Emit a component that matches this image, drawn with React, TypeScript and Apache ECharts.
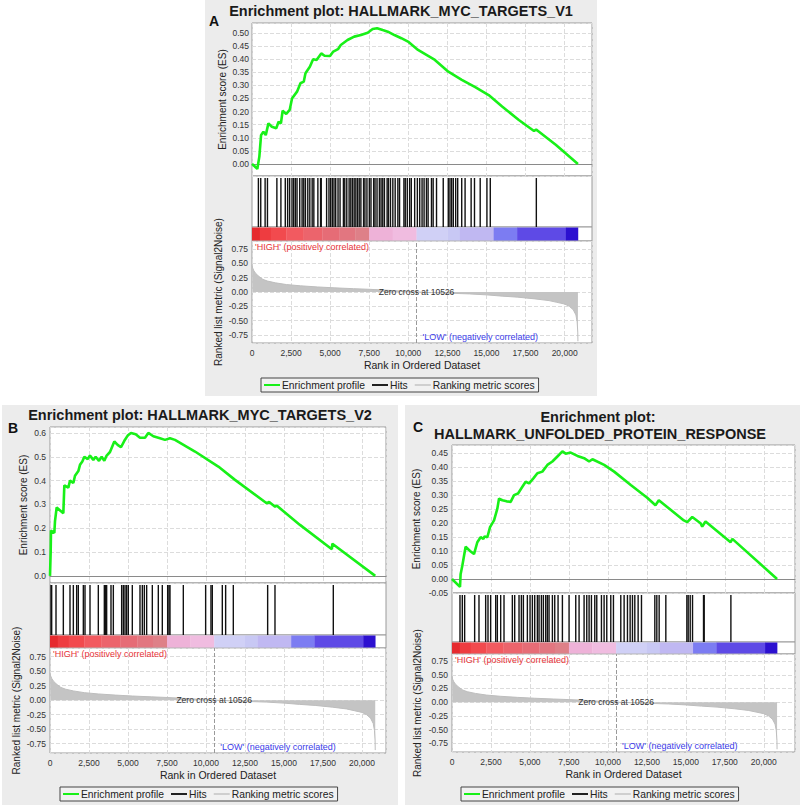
import React, { useEffect, useRef } from "react";
import * as echarts from "echarts";

// ---------------- data ----------------
const ZERO_CROSS = 10526;

const esMycV1: [number, number][] = [
  [0, 0], [86, -0.004], [340, -0.019], [470, 0.028], [580, 0.11], [730, 0.123], [880, 0.11],
  [1050, 0.155], [1270, 0.142], [1550, 0.136], [1700, 0.161], [1850, 0.155], [1960, 0.203],
  [2190, 0.191], [2410, 0.206], [2560, 0.25], [2880, 0.276], [3100, 0.308], [3310, 0.314],
  [3420, 0.346], [3700, 0.371], [3910, 0.4], [4130, 0.397], [4430, 0.422], [4640, 0.413],
  [4990, 0.412], [5200, 0.429], [5500, 0.438], [5680, 0.454], [6110, 0.473], [6540, 0.486],
  [6970, 0.492], [7400, 0.501], [7720, 0.515], [8000, 0.518], [8360, 0.511], [8690, 0.505],
  [9110, 0.492], [9550, 0.48], [9980, 0.467], [10620, 0.435], [11700, 0.397], [12560, 0.352],
  [13420, 0.321], [14280, 0.293], [15140, 0.263], [16000, 0.219], [17070, 0.168],
  [18040, 0.126], [18180, 0.131], [18360, 0.123], [19430, 0.073], [20850, 0],
];
const hitsMycV1: number[] = [
  409, 559, 839, 989, 1591, 1849, 2129, 2279, 2408, 2559, 2666, 2774, 2881, 3053, 3204, 3311,
  3418, 3569, 3698, 3849, 3956, 4214, 4386, 4429, 4773, 4924, 5031, 5139, 5246, 5354, 5504,
  5633, 5848, 5934, 6063, 6213, 6321, 6428, 6536, 6643, 6751, 6859, 6966, 7138, 7224, 7353,
  7504, 7611, 7783, 7869, 7998, 8149, 8256, 8364, 8471, 8643, 8729, 8858, 9009, 9159, 9331,
  9439, 9718, 9804, 9933, 10084, 10191, 10406, 10578, 10729, 10879, 11008, 11159, 11266,
  11481, 11589, 11804, 12234, 12556, 12664, 12771, 12879, 13029, 13158, 13416, 13631, 14018,
  14233, 14598, 15028, 15243, 18189,
];

const esMycV2: [number, number][] = [
  [0, 0], [43, 0.1], [64, 0.19], [278, 0.18], [320, 0.23], [427, 0.287], [855, 0.263],
  [919, 0.38], [1175, 0.37], [1282, 0.4], [1496, 0.39], [1603, 0.42], [1817, 0.44],
  [1923, 0.466], [2073, 0.48], [2201, 0.5], [2415, 0.49], [2564, 0.505], [2778, 0.487],
  [2927, 0.5], [3141, 0.483], [3311, 0.5], [3482, 0.483], [3632, 0.505], [3846, 0.52],
  [4124, 0.564], [4338, 0.55], [4551, 0.54], [4765, 0.567], [4979, 0.589], [5192, 0.6],
  [5492, 0.595], [5769, 0.58], [6089, 0.58], [6303, 0.6], [6624, 0.586], [7051, 0.578],
  [7372, 0.571], [7692, 0.578], [8013, 0.571], [9295, 0.522], [10790, 0.459], [11860, 0.403],
  [13890, 0.305], [14050, 0.31], [14430, 0.29], [14530, 0.295], [16025, 0.214],
  [18070, 0.112], [18100, 0.135], [20850, 0],
];
const hitsMycV2: number[] = [
  64, 107, 385, 855, 1282, 1496, 1709, 1816, 2137, 2244, 2564, 3098, 3483, 3568, 3632, 3910,
  4060, 4594, 4701, 4808, 4914, 5021, 5277, 5769, 5919, 6047, 6196, 6560, 6944, 7200, 7543,
  7628, 7692, 8547, 9978, 10320, 10406, 11046, 11260, 11752, 13953, 14423, 18162,
];

const esUpr: [number, number][] = [
  [0, 0], [513, -0.028], [552, 0.017], [661, 0.047], [873, 0.115], [1156, 0.1], [1412, 0.089],
  [1624, 0.131], [1836, 0.149], [2010, 0.143], [2093, 0.152], [2266, 0.149], [2440, 0.185],
  [2696, 0.209], [2908, 0.251], [3017, 0.287], [3229, 0.281], [3505, 0.277], [3762, 0.275],
  [3980, 0.299], [4237, 0.305], [4513, 0.329], [4725, 0.347], [4943, 0.341], [5219, 0.359],
  [5476, 0.377], [5797, 0.383], [6118, 0.407], [6439, 0.419], [6760, 0.437], [7081, 0.455],
  [7293, 0.447], [7614, 0.451], [8044, 0.439], [8474, 0.431], [8796, 0.419], [9007, 0.427],
  [9758, 0.407], [10400, 0.383], [11466, 0.335], [12520, 0.29], [13050, 0.263],
  [13265, 0.281], [13800, 0.257], [14870, 0.209], [15090, 0.203], [15410, 0.221],
  [15940, 0.199], [16050, 0.187], [16260, 0.205], [17870, 0.131], [17980, 0.143], [20850, 0],
];
const hitsUpr: number[] = [
  512, 661, 811, 1453, 1731, 2159, 2309, 2480, 2801, 2908, 3122, 3336, 3871, 4021, 4299, 4449,
  4578, 4834, 5006, 5155, 5305, 5476, 5583, 5733, 5861, 6011, 6118, 6225, 6439, 6589, 6803,
  7081, 7509, 7937, 8151, 8472, 8643, 8793, 8943, 9157, 9285, 9585, 9756, 9927, 10184, 10355,
  10826, 11040, 11254, 11425, 11575, 11725, 11939, 12153, 13009, 13137, 13287, 13715, 15063,
  15149, 15278, 15427, 16133, 16176, 17888,
];

// ranked list metric (same ranked list for all three plots)
const metricRanks: number[] = [
  0, 40, 120, 250, 450, 700, 1000, 1500, 2200, 3100, 4200, 5300, 6500, 7500, 8500, 9500,
  10526, 11500, 12500, 13900, 15000, 16000, 17000, 18100, 19000, 19500, 20000, 20300, 20550,
  20720, 20800, 20840, 20850,
];
const metricValues: number[] = [
  0.47, 0.42, 0.37, 0.32, 0.27, 0.22, 0.19, 0.16, 0.13, 0.108, 0.088, 0.072, 0.058, 0.047,
  0.033, 0.017, 0, -0.01, -0.02, -0.033, -0.05, -0.072, -0.09, -0.12, -0.15, -0.18, -0.21,
  -0.25, -0.31, -0.4, -0.52, -0.7, -0.86,
];

// colour bar of the ranked list
const barStarts: number[] = [0, 500, 1200, 2200, 3300, 4500, 5600, 6600, 7500, 9000, 10526, 12500, 13300, 15460, 16960, 20080];
const barEnds: number[] = [500, 1200, 2200, 3300, 4500, 5600, 6600, 7500, 9000, 10526, 12500, 13300, 15460, 16960, 20080, 20850];
const barColors: string[] = [
  "#e62a2e", "#ee3c40", "#f24a4e", "#f25a60", "#ec646c", "#e66c76", "#e27680", "#de8088",
  "#eeb2d8", "#f0bce0", "#d0d0f6", "#c8c8f4", "#c0b8f2", "#7c7cf2", "#5e4ae6", "#2c10d0",
];

const legendNames = ["Enrichment profile", "Hits", "Ranking metric scores"];

// ---------------- layout ----------------
const FONT = "Liberation Sans, Arial, sans-serif";
const GREEN = "#18f018";

type Panel = {
  letter: string; titles: string[]; titleX: number[]; titleY: number[];
  letterX: number; letterY: number; bg: [number, number, number, number];
  L: number; R: number; esTop: number; esBot: number; hitsBot: number; cbBot: number; metBot: number;
  xMax: number; esMin: number; esMax: number; esStep: number; esDigits: number; showEsMin: boolean;
  metMin: number; metMax: number; es: [number, number][]; hits: number[];
  legendLeft: number; legendTop: number; esNameGap: number; metNameGap: number; esMargin: number;
};

const panels: Panel[] = [
  {
    letter: "A", titles: ["Enrichment plot: HALLMARK_MYC_TARGETS_V1"], titleX: [401], titleY: [11],
    letterX: 214, letterY: 21, bg: [205, 0, 392, 396],
    L: 252, R: 592, esTop: 23, esBot: 176, hitsBot: 227, cbBot: 241, metBot: 343,
    xMax: 21750, esMin: -0.046, esMax: 0.538, esStep: 0.05, esDigits: 2, showEsMin: false,
    metMin: -0.89, metMax: 0.89, es: esMycV1, hits: hitsMycV1,
    legendLeft: 261, legendTop: 378, esNameGap: 25, metNameGap: 29, esMargin: 3,
  },
  {
    letter: "B", titles: ["Enrichment plot: HALLMARK_MYC_TARGETS_V2"], titleX: [200], titleY: [415],
    letterX: 13, letterY: 428, bg: [2, 405, 396, 400],
    L: 50, R: 386, esTop: 427, esBot: 583, hitsBot: 635, cbBot: 648, metBot: 753,
    xMax: 21540, esMin: -0.03, esMax: 0.625, esStep: 0.1, esDigits: 1, showEsMin: false,
    metMin: -0.91, metMax: 0.9, es: esMycV2, hits: hitsMycV2,
    legendLeft: 60, legendTop: 787, esNameGap: 22, metNameGap: 29, esMargin: 4,
  },
  {
    letter: "C", titles: ["Enrichment plot:", "HALLMARK_UNFOLDED_PROTEIN_RESPONSE"], titleX: [598, 600], titleY: [417, 434],
    letterX: 418, letterY: 427, bg: [405, 405, 395, 400],
    L: 452, R: 795, esTop: 445, esBot: 593, hitsBot: 642, cbBot: 654, metBot: 752,
    xMax: 22000, esMin: -0.05, esMax: 0.478, esStep: 0.05, esDigits: 2, showEsMin: true,
    metMin: -0.91, metMax: 0.88, es: esUpr, hits: hitsUpr,
    legendLeft: 461, legendTop: 787, esNameGap: 31, metNameGap: 30, esMargin: 4,
  },
];

function buildOption() {
  const grid: any[] = [];
  const xAxis: any[] = [];
  const yAxis: any[] = [];
  const series: any[] = [];
  const legend: any[] = [];
  const elements: any[] = [];
  const metricData = metricRanks.map((r, i) => [r, metricValues[i]]);
  const dashed = { show: true, lineStyle: { color: "#dcdcdc", type: "dashed", width: 1 } };

  panels.forEach((p, pi) => {
    const base = pi * 4;
    const W = p.R - p.L;
    const boxes = [
      [p.esTop, p.esBot], [p.esBot, p.hitsBot], [p.hitsBot, p.cbBot], [p.cbBot, p.metBot],
    ];
    boxes.forEach(([t, b]) => {
      grid.push({ left: p.L, top: t, width: W, height: b - t, show: true, backgroundColor: "#ffffff", borderColor: "#9a9a9a", borderWidth: 1 });
    });
    // x axes
    for (let k = 0; k < 4; k++) {
      const isEs = k === 0;
      const isMet = k === 3;
      xAxis.push({
        type: "value", gridIndex: base + k, min: 0, max: p.xMax, minInterval: 2500, maxInterval: 2500,
        show: isEs || isMet,
        axisLine: isEs
          ? { show: true, onZero: true, lineStyle: { color: "#8a8a8a", width: 1 } }
          : { show: false, onZero: false },
        axisTick: { show: false },
        axisLabel: isMet
          ? { show: true, fontSize: 8.5, color: "#333", margin: 5, showMaxLabel: false, fontFamily: FONT,
              formatter: (v: number) => v.toLocaleString("en-US") }
          : { show: false },
        splitLine: isEs || isMet ? dashed : { show: false },
        name: isMet ? "Rank in Ordered Dataset" : "",
        nameLocation: "middle", nameGap: 16,
        nameTextStyle: { fontSize: 10.5, color: "#222", fontFamily: FONT },
      });
    }
    // y axes
    yAxis.push({
      type: "value", gridIndex: base, min: p.esMin, max: p.esMax, minInterval: p.esStep, maxInterval: p.esStep,
      axisLine: { show: false }, axisTick: { show: false },
      axisLabel: { fontSize: 8.5, color: "#333", margin: p.esMargin, showMinLabel: p.showEsMin, showMaxLabel: false, fontFamily: FONT,
        formatter: (v: number) => v.toFixed(p.esDigits) },
      splitLine: dashed,
      name: "Enrichment score (ES)", nameLocation: "middle", nameGap: p.esNameGap,
      nameTextStyle: { fontSize: 10, color: "#222", fontFamily: FONT },
    });
    yAxis.push({ type: "value", gridIndex: base + 1, min: 0, max: 1, show: false, splitLine: { show: false } });
    yAxis.push({ type: "value", gridIndex: base + 2, min: 0, max: 1, show: false, splitLine: { show: false } });
    yAxis.push({
      type: "value", gridIndex: base + 3, min: p.metMin, max: p.metMax, minInterval: 0.25, maxInterval: 0.25,
      axisLine: { show: false }, axisTick: { show: false },
      axisLabel: { fontSize: 8.5, color: "#333", margin: 4, showMinLabel: false, showMaxLabel: false, fontFamily: FONT,
        formatter: (v: number) => v.toFixed(2) },
      splitLine: dashed,
      name: "Ranked list metric (Signal2Noise)", nameLocation: "middle", nameGap: p.metNameGap,
      nameTextStyle: { fontSize: 10, color: "#222", fontFamily: FONT },
    });

    // series
    series.push({
      type: "line", name: legendNames[0], xAxisIndex: base, yAxisIndex: base, data: p.es,
      symbol: "none", lineStyle: { color: GREEN, width: 2.6 }, itemStyle: { color: GREEN }, z: 5,
    });
    series.push({
      type: "custom", name: legendNames[1], xAxisIndex: base + 1, yAxisIndex: base + 1,
      data: p.hits.map((h) => [h]), encode: { x: 0 }, itemStyle: { color: "#000" },
      renderItem: (params: any, api: any) => {
        const x = api.coord([api.value(0), 0.5])[0];
        const cs = params.coordSys;
        return { type: "line", shape: { x1: x, y1: cs.y + 2, x2: x, y2: cs.y + cs.height }, style: { stroke: "#111", lineWidth: 1.4 } };
      },
    });
    series.push({
      type: "custom", name: "colour bar", xAxisIndex: base + 2, yAxisIndex: base + 2,
      data: barStarts.map((s, i) => [s, barEnds[i]]), encode: { x: [0, 1] },
      renderItem: (params: any, api: any) => {
        const s = api.coord([api.value(0), 0.5])[0];
        const e = api.coord([api.value(1), 0.5])[0];
        const cs = params.coordSys;
        return { type: "rect", shape: { x: s, y: cs.y + 0.5, width: e - s + 0.3, height: cs.height - 1 }, style: { fill: barColors[params.dataIndex] } };
      },
    });
    series.push({
      type: "line", name: legendNames[2], xAxisIndex: base + 3, yAxisIndex: base + 3, data: metricData,
      symbol: "none", lineStyle: { color: "#bdbdbd", width: 1 }, itemStyle: { color: "#c4c4c4" },
      areaStyle: { color: "#c4c4c4", opacity: 1 },
      markLine: {
        silent: true, symbol: "none", label: { show: false },
        lineStyle: { color: "#9a9a9a", type: "dashed", width: 1 },
        data: [{ xAxis: ZERO_CROSS }],
      },
      markPoint: {
        silent: true,
        data: [{
          coord: [ZERO_CROSS, 0], symbol: "circle", symbolSize: 0,
          label: { show: true, position: "inside", formatter: `Zero cross at ${ZERO_CROSS}`, color: "#333", fontSize: 8.5, fontFamily: FONT },
        }],
      },
    });

    legend.push({
      left: p.legendLeft, top: p.legendTop, orient: "horizontal", selectedMode: false,
      itemWidth: 16, itemHeight: 2, itemGap: 7, padding: [2, 4, 2, 3],
      borderColor: "#444", borderWidth: 1, borderRadius: 0, backgroundColor: "rgba(255,255,255,0.25)",
      textStyle: { fontSize: 10.3, color: "#222", fontFamily: FONT, padding: [0, 0, 0, -3] },
      data: [
        { name: legendNames[0], icon: "rect", itemStyle: { color: GREEN } },
        { name: legendNames[1], icon: "rect", itemStyle: { color: "#222" } },
        { name: legendNames[2], icon: "rect", itemStyle: { color: "#cfcfcf" } },
      ],
    });

    // background and texts
    elements.push({ type: "rect", z: -100, silent: true, shape: { x: p.bg[0], y: p.bg[1], width: p.bg[2], height: p.bg[3] }, style: { fill: "#ececec" } });
    p.titles.forEach((t, i) => {
      elements.push({ type: "text", z: 100, x: p.titleX[i], y: p.titleY[i], style: { text: t, fill: "#1a1a1a", fontSize: 14.5, fontWeight: "bold", fontFamily: FONT, align: "center", verticalAlign: "middle" } });
    });
    elements.push({ type: "text", z: 100, x: p.letterX, y: p.letterY, style: { text: p.letter, fill: "#111", fontSize: 14, fontWeight: "bold", fontFamily: FONT, align: "center", verticalAlign: "middle" } });
    elements.push({ type: "text", z: 100, x: p.L + 3, y: p.cbBot + 6, style: { text: "'HIGH' (positively correlated)", fill: "#e8343a", fontSize: 9, fontFamily: FONT, align: "left", verticalAlign: "middle" } });
    const zx = p.L + (ZERO_CROSS / p.xMax) * W;
    elements.push({ type: "text", z: 100, x: zx + 6, y: p.metBot - 6, style: { text: "'LOW' (negatively correlated)", fill: "#3b3be8", fontSize: 9, fontFamily: FONT, align: "left", verticalAlign: "middle" } });
  });

  return {
    animation: false,
    backgroundColor: "#ffffff",
    textStyle: { fontFamily: FONT },
    grid, xAxis, yAxis, series, legend,
    graphic: { elements },
  };
}

export default function App() {
  const ref = useRef<HTMLDivElement>(null);
  useEffect(() => {
    if (!ref.current) return;
    const chart = echarts.init(ref.current, undefined, { renderer: "svg" });
    chart.setOption(buildOption() as any);
    return () => chart.dispose();
  }, []);
  return <div ref={ref} style={{ position: "absolute", left: 0, top: 0, width: 800, height: 805 }} />;
}
